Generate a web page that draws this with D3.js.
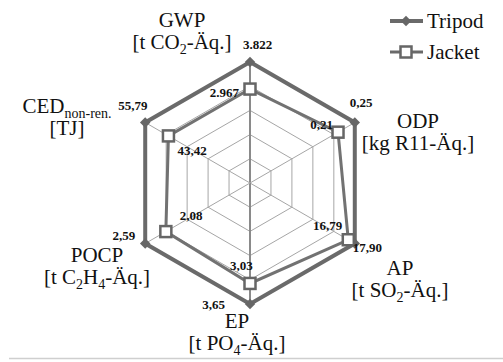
<!DOCTYPE html>
<html>
<head>
    <meta charset="UTF-8">
    <title>Radar Tripod / Jacket</title>
    <script src="https://d3js.org/d3.v7.min.js"></script>
    <style>
        body { margin: 0; background: #fff; }
        .grid { fill: none; stroke: #a6a6a6; stroke-width: 1; }
    </style>
</head>
<body>
<script>
    // data
    const categories = ["GWP", "ODP", "AP", "EP", "POCP", "CED"];
    const tripod = [3.822, 0.25, 17.90, 3.65, 2.59, 55.79];
    const jacket = [2.967, 0.21, 16.79, 3.03, 2.08, 43.42];
    const tripodLabels = ["3.822", "0,25", "17,90", "3,65", "2,59", "55,79"];
    const jacketLabels = ["2.967", "0,21", "16,79", "3,03", "2,08", "43,42"];
    const ringCount = 5;

    const width = 503, height = 362;
    const cx = 250, cy = 183, R = 121;
    const serif = '"Liberation Serif"';

    const svg = d3.select("body").append("svg")
        .attr("width", width)
        .attr("height", height);

    // angle per axis, clockwise from top
    const step = 2 * Math.PI / categories.length;
    const ang = c => categories.indexOf(c) * step;

    // every axis scaled to the tripod value
    const rScales = categories.map((c, i) => d3.scaleLinear().domain([0, tripod[i]]).range([0, R]));

    const pt = (i, r) => [cx + r * Math.sin(ang(categories[i])), cy - r * Math.cos(ang(categories[i]))];

    const g = svg.append("g");

    // grid rings
    const ringScale = d3.scaleLinear().domain([0, ringCount]).range([0, R]);
    d3.range(1, ringCount + 1).forEach(k => {
        g.append("path")
            .attr("class", "grid")
            .attr("d", d3.lineRadial().angle((d, i) => ang(categories[i])).radius(ringScale(k))
                .curve(d3.curveLinearClosed)(categories))
            .attr("transform", `translate(${cx},${cy})`);
    });

    // spokes
    categories.forEach((c, i) => {
        const [x, y] = pt(i, R);
        g.append("line")
            .attr("x1", cx).attr("y1", cy).attr("x2", x).attr("y2", y)
            .attr("stroke", i === 0 || i === 3 ? "#8a8a8a" : "#a6a6a6")
            .attr("stroke-width", i === 0 || i === 3 ? 2 : 1);
    });

    const radial = vals => d3.lineRadial()
        .angle((d, i) => ang(categories[i]))
        .radius((d, i) => rScales[i](d))
        .curve(d3.curveLinearClosed)(vals);

    // tripod
    g.append("path")
        .attr("d", radial(tripod))
        .attr("transform", `translate(${cx},${cy})`)
        .attr("fill", "none").attr("stroke", "#6a6a6a").attr("stroke-width", 4);

    // jacket
    g.append("path")
        .attr("d", radial(jacket))
        .attr("transform", `translate(${cx},${cy})`)
        .attr("fill", "none").attr("stroke", "#727272").attr("stroke-width", 3);

    const diamond = d3.symbol().type(d3.symbolDiamond2).size(70);
    tripod.forEach((v, i) => {
        const [x, y] = pt(i, rScales[i](v));
        g.append("path").attr("d", diamond()).attr("transform", `translate(${x},${y})`)
            .attr("fill", "#666");
    });
    jacket.forEach((v, i) => {
        const [x, y] = pt(i, rScales[i](v));
        g.append("rect").attr("x", x - 5.5).attr("y", y - 5.5).attr("width", 11).attr("height", 11)
            .attr("fill", "#fff").attr("stroke", "#666").attr("stroke-width", 2.5);
    });

    const txt = (x, y, size, bold) => svg.append("text")
        .attr("x", x).attr("y", y)
        .style("font-family", serif)
        .style("font-size", size + "px")
        .style("font-weight", bold ? "bold" : "normal")
        .style("fill", "#111");

    // value labels: offsets from the point
    const tripodOff = [[-7, -13, "start"], [-5, -16, "start"], [-2, 8, "start"], [-25, 5, "end"], [-10, -4, "end"], [-27, -13, "start"]];
    const jacketOff = [[-11, 8, "end"], [-5, -3, "end"], [-6, -10, "end"], [-20, -13, "start"], [14, -12, "start"], [9, 19, "start"]];
    tripod.forEach((v, i) => {
        const [x, y] = pt(i, rScales[i](v));
        txt(x + tripodOff[i][0], y + tripodOff[i][1], 13, true)
            .attr("text-anchor", tripodOff[i][2]).text(tripodLabels[i]);
    });
    jacket.forEach((v, i) => {
        const [x, y] = pt(i, rScales[i](v));
        txt(x + jacketOff[i][0], y + jacketOff[i][1], 13, true)
            .attr("text-anchor", jacketOff[i][2]).text(jacketLabels[i]);
    });

    // axis titles (two lines each)
    const titleSpots = [[182, 27], [418, 128], [400, 275], [237, 328], [97, 262], [67, 113]];
    const lineGap = 22;
    const seg = (t, s) => t.append("tspan").text(s);
    const sub = (t, s) => t.append("tspan").style("font-size", "14px").attr("dy", 5).text(s);
    const back = (t, s) => t.append("tspan").attr("dy", -5).text(s);
    const titles = [
        (a, b) => { seg(a, "GWP"); seg(b, "[t CO"); sub(b, "2"); back(b, "-Äq.]"); },
        (a, b) => { seg(a, "ODP"); seg(b, "[kg R11-Äq.]"); },
        (a, b) => { seg(a, "AP"); seg(b, "[t SO"); sub(b, "2"); back(b, "-Äq.]"); },
        (a, b) => { seg(a, "EP"); seg(b, "[t PO"); sub(b, "4"); back(b, "-Äq.]"); },
        (a, b) => { seg(a, "POCP"); seg(b, "[t C"); sub(b, "2"); back(b, "H"); sub(b, "4"); back(b, "-Äq.]"); },
        (a, b) => { seg(a, "CED"); sub(a, "non-ren."); seg(b, "[TJ]"); }
    ];
    titles.forEach((f, i) => {
        const [x, y] = titleSpots[i];
        const a = txt(x, y, 21, false).attr("text-anchor", "middle");
        const b = txt(x, y + lineGap, 21, false).attr("text-anchor", "middle");
        f(a, b);
    });

    // legend
    const legend = svg.append("g");
    [["Tripod", 21], ["Jacket", 52]].forEach(([name, y], k) => {
        legend.append("line").attr("x1", 390).attr("x2", 423).attr("y1", y).attr("y2", y)
            .attr("stroke", "#6a6a6a").attr("stroke-width", k === 0 ? 4 : 3);
        if (k === 0) {
            legend.append("path").attr("d", diamond()).attr("transform", `translate(406,${y})`).attr("fill", "#666");
        } else {
            legend.append("rect").attr("x", 400.5).attr("y", y - 5.5).attr("width", 11).attr("height", 11)
                .attr("fill", "#fff").attr("stroke", "#666").attr("stroke-width", 2.5);
        }
        txt(427, y + 7, 21, false).text(name);
    });

    // bottom rule
    svg.append("line").attr("x1", 9).attr("x2", width).attr("y1", 358.5).attr("y2", 358.5)
        .attr("stroke", "#cfcfcf").attr("stroke-width", 1.5);
</script>
</body>
</html>
